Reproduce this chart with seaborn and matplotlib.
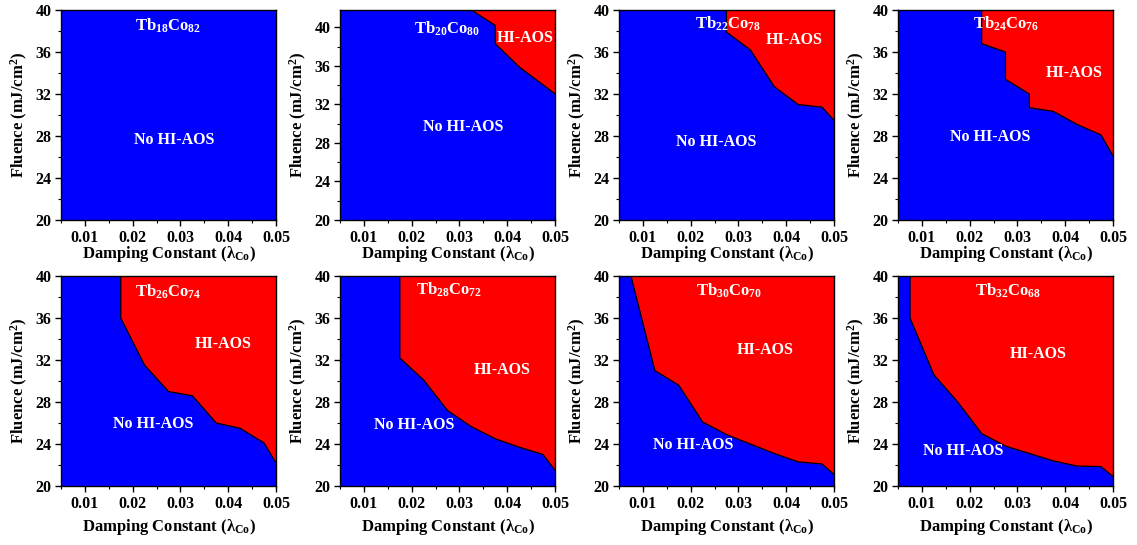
import matplotlib
matplotlib.use("Agg")
import matplotlib.pyplot as plt
import seaborn as sns
import pandas as pd
from matplotlib.ticker import MultipleLocator, FormatStrFormatter

sns.set_theme(style="ticks")
plt.rcParams['font.family'] = ['Liberation Serif', 'DejaVu Serif']
plt.rcParams['font.weight'] = 'bold'
plt.rcParams['axes.labelweight'] = 'bold'
plt.rcParams['mathtext.fontset'] = 'custom'
plt.rcParams['mathtext.rm'] = 'Liberation Serif:bold'
plt.rcParams['mathtext.it'] = 'Liberation Serif:bold:italic'
plt.rcParams['mathtext.bf'] = 'Liberation Serif:bold'

# ---------------- data ----------------
titles = ["Tb$_{18}$Co$_{82}$", "Tb$_{20}$Co$_{80}$", "Tb$_{22}$Co$_{78}$", "Tb$_{24}$Co$_{76}$",
          "Tb$_{26}$Co$_{74}$", "Tb$_{28}$Co$_{72}$", "Tb$_{30}$Co$_{70}$", "Tb$_{32}$Co$_{68}$"]

tb18_x, tb18_y = [], []
tb20_x = [0.0325, 0.0375, 0.0375, 0.0425, 0.05]
tb20_y = [41.8, 40.2, 38.3, 35.9, 33.1]
tb22_x = [0.0275, 0.0275, 0.0325, 0.0375, 0.0425, 0.0475, 0.05]
tb22_y = [40.0, 37.9, 36.2, 32.7, 31.0, 30.75, 29.5]
tb24_x = [0.0225, 0.0225, 0.0275, 0.0275, 0.0325, 0.0325, 0.0375, 0.0425, 0.0475, 0.05]
tb24_y = [40.0, 36.8, 36.0, 33.4, 32.0, 30.7, 30.35, 29.1, 28.1, 26.1]
tb26_x = [0.0175, 0.0175, 0.0225, 0.0275, 0.0325, 0.0375, 0.0425, 0.0475, 0.05]
tb26_y = [40.0, 36.0, 31.5, 29.0, 28.6, 26.0, 25.5, 24.1, 22.2]
tb28_x = [0.0175, 0.0175, 0.0225, 0.0275, 0.0325, 0.0375, 0.0425, 0.0475, 0.05]
tb28_y = [40.0, 32.2, 30.1, 27.2, 25.65, 24.5, 23.7, 23.0, 21.5]
tb30_x = [0.0075, 0.0125, 0.0175, 0.0225, 0.0275, 0.0325, 0.0375, 0.0425, 0.0475, 0.05]
tb30_y = [40.0, 31.0, 29.6, 26.1, 24.9, 24.0, 23.1, 22.3, 22.1, 21.1]
tb32_x = [0.0075, 0.0075, 0.0125, 0.0175, 0.0225, 0.0275, 0.0325, 0.0375, 0.0425, 0.0475, 0.05]
tb32_y = [40.0, 36.0, 30.6, 28.0, 25.0, 23.8, 23.1, 22.4, 21.9, 21.85, 20.9]

boundaries = [(tb18_x, tb18_y), (tb20_x, tb20_y), (tb22_x, tb22_y), (tb24_x, tb24_y),
              (tb26_x, tb26_y), (tb28_x, tb28_y), (tb30_x, tb30_y), (tb32_x, tb32_y)]

y_top = [40, 41.8, 40, 40, 40, 40, 40, 40]
x_ticks = [0.01, 0.02, 0.03, 0.04, 0.05]
y_ticks = [20, 24, 28, 32, 36, 40]

# ---------------- layout (annotation positions in data coords) ----------------
title_pos = [(0.0275, 38.5), (0.0275, 39.9), (0.0278, 38.7), (0.0277, 38.7),
             (0.0275, 38.5), (0.0278, 38.7), (0.028, 38.6), (0.028, 38.6)]
hi_pos = [None, (0.0437, 38.9), (0.0416, 37.1), (0.0419, 34.0),
          (0.039, 33.5), (0.0389, 31.0), (0.0355, 33.0), (0.0343, 32.6)]
no_pos = [(0.0287, 27.6), (0.0308, 29.7), (0.0254, 27.4), (0.0243, 27.9),
          (0.0243, 25.9), (0.0206, 25.8), (0.0205, 23.9), (0.0186, 23.3)]

BLUE = "#0000FF"
RED = "#FF0000"

fig = plt.figure(figsize=(11.37, 5.45), dpi=100)
W, H = 1137.0, 545.0
lefts = [61, 340, 619, 898]
rows = [(10, 220), (276, 486)]
xlabel_pads = [-1, 4]

for i in range(8):
    r, c = divmod(i, 4)
    top_px, bot_px = rows[r]
    ax = fig.add_axes([lefts[c] / W, 1 - bot_px / H, 215 / W, (bot_px - top_px) / H])
    ax.set_facecolor(BLUE)
    bx, by = boundaries[i]
    if bx:
        ax.fill_between(bx, by, y_top[i], color=RED, linewidth=0, zorder=1)
        df = pd.DataFrame({"x": bx, "y": by})
        sns.lineplot(data=df, x="x", y="y", sort=False, estimator=None,
                     color="black", linewidth=0.9, ax=ax, zorder=2)
    ax.set_xlim(0.005, 0.05)
    ax.set_ylim(20, y_top[i])
    ax.set_xticks(x_ticks)
    ax.set_yticks(y_ticks)
    ax.xaxis.set_major_formatter(FormatStrFormatter('%.2f'))
    ax.xaxis.set_minor_locator(MultipleLocator(0.005))
    ax.yaxis.set_minor_locator(MultipleLocator(2))
    ax.tick_params(which='major', direction='out', length=4, width=1, labelsize=11.5,
                   colors='black', pad=3)
    ax.tick_params(which='minor', direction='out', length=2, width=0.8, colors='black')
    for lab in ax.get_xticklabels() + ax.get_yticklabels():
        lab.set_fontweight('bold')
    for s in ax.spines.values():
        s.set_visible(True)
        s.set_color('black')
        s.set_linewidth(1.0)
    ax.set_xlabel("Damping Constant (λ$_{\\mathrm{Co}}$)", fontsize=12, fontweight='bold',
                  labelpad=xlabel_pads[r], color='black')
    ax.set_ylabel("Fluence (mJ/cm$^{\\mathrm{2}}$)", fontsize=12, fontweight='bold',
                  labelpad=4, color='black')
    tx, ty = title_pos[i]
    ax.text(tx, ty, titles[i], color='white', fontsize=12, fontweight='bold',
            ha='center', va='center', zorder=5)
    if hi_pos[i] is not None:
        hx, hy = hi_pos[i]
        ax.text(hx, hy, "HI-AOS", color='white', fontsize=11.5, fontweight='bold',
                ha='center', va='center', zorder=5)
    nx, ny = no_pos[i]
    ax.text(nx, ny, "No HI-AOS", color='white', fontsize=11.5, fontweight='bold',
            ha='center', va='center', zorder=5)

fig.savefig("out.png", dpi=100)
